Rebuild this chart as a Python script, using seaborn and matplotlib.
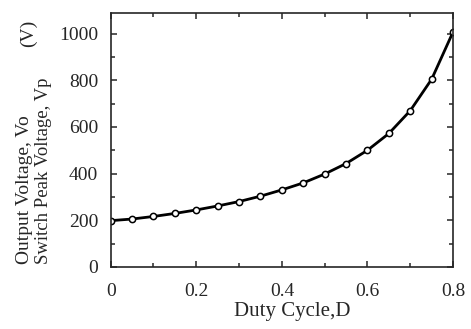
import matplotlib
matplotlib.use("Agg")
import matplotlib.pyplot as plt
from matplotlib.ticker import MultipleLocator
import seaborn as sns
import pandas as pd

# values
duty = [0.0, 0.05, 0.1, 0.15, 0.2, 0.25, 0.3, 0.35, 0.4,
        0.45, 0.5, 0.55, 0.6, 0.65, 0.7, 0.75, 0.8]
voltage = [198, 205, 216, 229, 244, 261, 280, 303, 330,
           360, 398, 443, 500, 572, 670, 805, 1008]
xtick_labels = ["0", "0.2", "0.4", "0.6", "0.8"]

df = pd.DataFrame({"D": duty, "V": voltage})

sns.set_style("ticks")
plt.rcParams['font.family'] = ['Liberation Serif', 'DejaVu Serif']

fig = plt.figure(figsize=(4.71, 3.29), dpi=100)
ax = fig.add_axes([0.235, 0.189, 0.727, 0.771])

sns.lineplot(data=df, x="D", y="V", ax=ax, color="black", linewidth=2.0,
             marker="o", markersize=4.5, markerfacecolor="white",
             markeredgecolor="black", markeredgewidth=1.1)

ax.set_xlim(0, 0.8)
ax.set_ylim(0, 1088)
ax.set_xticks([0, 0.2, 0.4, 0.6, 0.8])
ax.set_xticklabels(xtick_labels)
ax.xaxis.set_minor_locator(MultipleLocator(0.1))
ax.yaxis.set_major_locator(MultipleLocator(200))
ax.yaxis.set_minor_locator(MultipleLocator(100))

ax.tick_params(which="both", direction="in", top=True, right=True, width=1.1)
ax.tick_params(which="major", length=4.5, labelsize=14)
ax.tick_params(which="minor", length=3)
ax.tick_params(axis="y", pad=9)
ax.tick_params(axis="x", pad=12)
for s in ax.spines.values():
    s.set_visible(True)
    s.set_linewidth(1.2)

ax.set_xlabel("")
ax.set_ylabel("")
fig.text(0.62, 0.052, "Duty Cycle,D", ha="center", va="center", fontsize=15)
fig.text(0.051, 0.198, "Output Voltage, Vo", rotation=90, ha="center", va="bottom", fontsize=14)
fig.text(0.092, 0.198, "Switch Peak Voltage, Vp", rotation=90, ha="center", va="bottom", fontsize=13.5)
fig.text(0.06, 0.9, "(V)", rotation=90, ha="center", va="center", fontsize=14)

fig.savefig("out.png", dpi=100)
